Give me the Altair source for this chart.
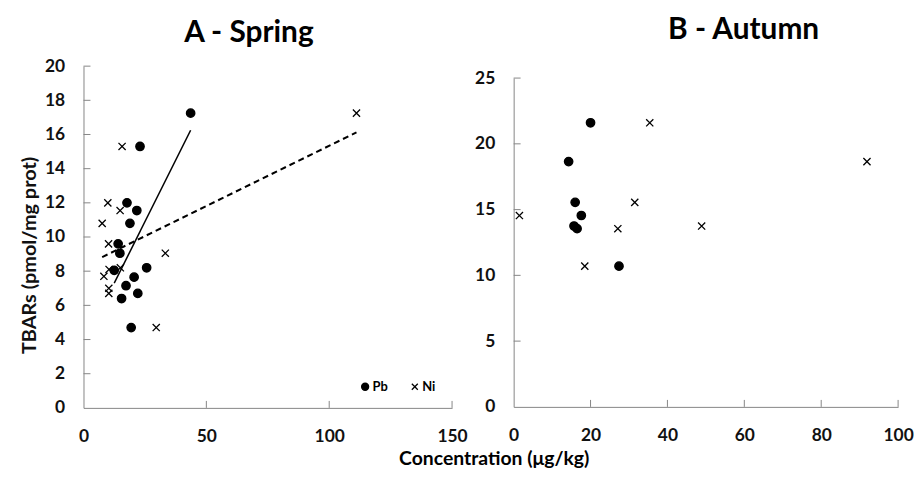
import altair as alt
import pandas as pd

# ---- data ----
metals = ["Pb", "Ni"]

spring_pb_x = [43.6, 23.0, 17.7, 21.7, 18.9, 14.1, 14.8, 12.5, 25.7, 20.6, 17.3, 22.1, 15.5, 19.4]
spring_pb_y = [17.25, 15.3, 12.0, 11.55, 10.8, 9.6, 9.05, 8.05, 8.2, 7.65, 7.15, 6.7, 6.4, 4.7]
spring_ni_x = [111.1, 15.7, 9.9, 14.9, 7.6, 10.2, 33.3, 15.0, 10.4, 8.3, 10.3, 10.3, 29.6]
spring_ni_y = [17.25, 15.3, 12.0, 11.55, 10.8, 9.6, 9.05, 8.2, 8.1, 7.7, 7.0, 6.7, 4.7]

autumn_pb_x = [20.0, 14.3, 16.0, 17.6, 15.7, 16.5, 27.4]
autumn_pb_y = [21.6, 18.65, 15.55, 14.55, 13.75, 13.55, 10.7]
autumn_ni_x = [35.4, 91.9, 31.5, 1.5, 48.9, 27.1, 18.5]
autumn_ni_y = [21.6, 18.65, 15.55, 14.55, 13.75, 13.55, 10.7]

spring_x_ticks = [0, 50, 100, 150]
spring_y_ticks = [0, 2, 4, 6, 8, 10, 12, 14, 16, 18, 20]
autumn_x_ticks = [0, 20, 40, 60, 80, 100]
autumn_y_ticks = [0, 5, 10, 15, 20, 25]

titles = ["A - Spring", "B - Autumn"]
y_title = "TBARs (pmol/mg prot)"
x_title = "Concentration (μg/kg)"

# ---- tables ----
def table(px, py, nx, ny):
    return pd.DataFrame({
        "x": px + nx,
        "y": py + ny,
        "metal": ["Pb"] * len(px) + ["Ni"] * len(nx),
    })

spring = table(spring_pb_x, spring_pb_y, spring_ni_x, spring_ni_y)
autumn = table(autumn_pb_x, autumn_pb_y, autumn_ni_x, autumn_ni_y)

GRAY = "#868686"
FONT = "Lato"
XPATH = "M-0.85,-0.85L0.85,0.85M-0.85,0.85L0.85,-0.85"
TICK = 7


def xaxis(values):
    return alt.Axis(values=values, title=None, labelOverlap=False, labelFlush=False,
                    labelPadding=20)


def yaxis(values, title):
    if title:
        return alt.Axis(values=values, title=title, labelOverlap=False, labelFlush=False,
                        titleY=190)
    return alt.Axis(values=values, title=None, labelOverlap=False, labelFlush=False)


def panel(df, xdom, ydom, xt, yt, w, h, ytop, title, title_dx, title_off, ytitle, show_legend, with_lines):
    xs = alt.Scale(domain=xdom, nice=False, zero=False)
    ys = alt.Scale(domain=ydom, nice=False, zero=False, range=[h, ytop])
    xax = xaxis(xt)
    yax = yaxis(yt, ytitle)

    def X(f):
        return alt.X(f, scale=xs, axis=xax)

    def Y(f):
        return alt.Y(f, scale=ys, axis=yax)

    if show_legend:
        leg = alt.Legend(title=None, orient="none", legendX=277, legendY=316,
                         direction="horizontal")
    else:
        leg = None
    pts = alt.Chart(df).mark_point(size=72, strokeWidth=1.3, opacity=1).encode(
        x=X("x:Q"), y=Y("y:Q"),
        shape=alt.Shape("metal:N", scale=alt.Scale(domain=metals, range=["circle", XPATH]), legend=leg),
        fill=alt.Fill("metal:N", scale=alt.Scale(domain=metals, range=["black", "transparent"]), legend=leg),
        stroke=alt.Stroke("metal:N", scale=alt.Scale(domain=metals, range=["black", "black"]), legend=leg),
    )
    layers = [pts]
    if with_lines:
        pb_line = alt.Chart(df).transform_filter(alt.datum.metal == "Pb").transform_regression(
            "x", "y").mark_line(color="black", strokeWidth=1.5).encode(x=X("x:Q"), y=Y("y:Q"))
        ni_line = alt.Chart(df).transform_filter(alt.datum.metal == "Ni").transform_regression(
            "x", "y").mark_line(color="black", strokeWidth=2, strokeDash=[6, 4]).encode(
            x=X("x:Q"), y=Y("y:Q"))
        layers += [pb_line, ni_line]
    yt_df = pd.DataFrame({"y": yt[1:]})
    xt_df = pd.DataFrame({"x": xt[1:]})
    ytick = alt.Chart(yt_df).mark_rule(color=GRAY, strokeWidth=1).encode(
        y=Y("y:Q"), x=alt.value(0), x2=alt.value(TICK))
    xtick = alt.Chart(xt_df).mark_rule(color=GRAY, strokeWidth=1).encode(
        x=X("x:Q"), y=alt.value(h), y2=alt.value(h - TICK))
    layers += [ytick, xtick]
    return alt.layer(*layers).properties(
        width=w, height=h,
        title=alt.TitleParams(title, font=FONT, fontSize=30, fontWeight="bold", color="black",
                              anchor="middle", dx=title_dx, offset=title_off),
    ).resolve_scale(shape="independent", fill="independent", stroke="independent")


left = panel(spring, [0, 150], [0, 20], spring_x_ticks, spring_y_ticks, 371, 344, 0,
             titles[0], -19, 9, y_title, True, True)
right = panel(autumn, [0, 100], [0, 25], autumn_x_ticks, autumn_y_ticks, 387, 343, 12,
              titles[1], 38, 21, None, False, False)

chart = alt.hconcat(left, right, spacing=62, bounds="flush").resolve_scale(
    shape="independent", fill="independent", stroke="independent").resolve_legend(
    shape="independent", fill="independent", stroke="independent").properties(
    title=alt.TitleParams(x_title, orient="bottom", anchor="middle",
                          font=FONT, fontSize=19.5, fontWeight="bold", color="black", dx=28, offset=5),
    padding={"left": 11, "right": 0, "top": 6, "bottom": 0},
).configure_view(stroke=None).configure_axis(
    domainColor=GRAY, domainWidth=1, ticks=False, tickSize=0, grid=False,
    labelFont=FONT, labelFontWeight="bold", labelFontSize=17.5, labelColor="#111111",
    labelPadding=19, labelFlush=False, labelOverlap=False,
    titleFont=FONT, titleFontWeight="bold", titleFontSize=20, titleColor="#111111", titlePadding=5,
).configure_legend(
    labelFont=FONT, labelFontWeight="bold", labelFontSize=13, labelColor="black",
    symbolSize=50, symbolStrokeWidth=1.3, columnPadding=20,
    labelOffset=1,
)

chart.save("out.html", embed_options={"renderer": "svg", "actions": False})
